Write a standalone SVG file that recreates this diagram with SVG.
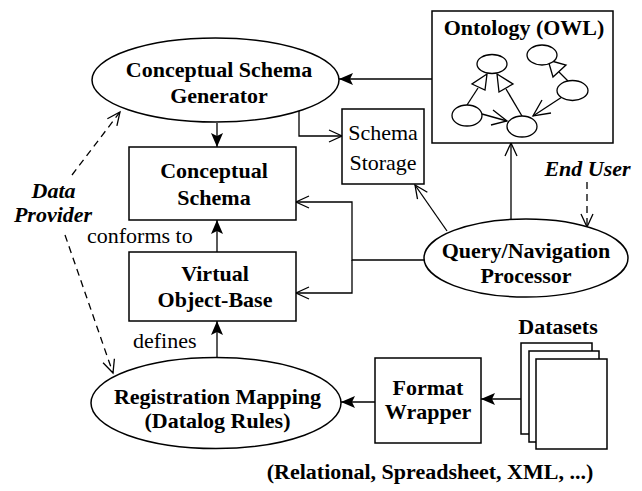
<svg xmlns="http://www.w3.org/2000/svg" width="642" height="491" viewBox="0 0 642 491">
<style>
text{font-family:"Liberation Serif","Times New Roman",serif;font-size:22px;fill:#000}
.b{font-weight:bold}
.bi{font-weight:bold;font-style:italic}
.m{text-anchor:middle}
.shape{fill:#fff;stroke:#000;stroke-width:1.5}
.small{fill:#fff;stroke:#000;stroke-width:1.3}
.ln{fill:none;stroke:#000;stroke-width:1.3}
.dash{fill:none;stroke:#000;stroke-width:1.3;stroke-dasharray:7,5}
.fa{marker-end:url(#filled)}
.oa{marker-end:url(#open)}
</style>
<defs>
<marker id="filled" viewBox="0 0 14 12" refX="14" refY="6" markerWidth="14" markerHeight="12" markerUnits="userSpaceOnUse" orient="auto">
<path d="M0,0 L14,6 L0,12 L3,6 Z" fill="#000"/>
</marker>
<marker id="open" viewBox="-1 -1 16 14" refX="13" refY="6" markerWidth="16" markerHeight="14" markerUnits="userSpaceOnUse" orient="auto">
<path d="M0,0 L13,6 L0,12" fill="none" stroke="#000" stroke-width="1.3"/>
</marker>
</defs>

<g id="connectors">
<line class="ln fa" x1="217" y1="123" x2="217" y2="147"/>
<line class="ln fa" x1="217" y1="252" x2="217" y2="220"/>
<line class="ln fa" x1="217" y1="358" x2="217" y2="321"/>
<line class="ln fa" x1="432" y1="79" x2="339" y2="79"/>
<line class="ln fa" x1="375" y1="402" x2="341" y2="402"/>
<line class="ln fa" x1="521" y1="399" x2="481" y2="399"/>
<path class="ln oa" d="M299,111 V136 H342"/>
<line class="ln oa" x1="511" y1="219" x2="511" y2="143"/>
<line class="ln oa" x1="447" y1="231" x2="415" y2="185"/>
<path class="ln oa" d="M424,260 H352 V202 H296"/>
<path class="ln oa" d="M352,260 V293 H296"/>
<line class="dash oa" x1="587" y1="182" x2="587" y2="227"/>
<line class="dash oa" x1="72" y1="175" x2="120" y2="112"/>
<line class="dash oa" x1="65" y1="235" x2="113" y2="373"/>
</g>

<g id="generator">
<ellipse class="shape" cx="215.5" cy="80" rx="123.5" ry="42"/>
<text class="b m" x="219" y="77">Conceptual Schema</text>
<text class="b m" x="219" y="103">Generator</text>
</g>

<g id="conceptual-schema">
<rect class="shape" x="129" y="147" width="167" height="73"/>
<text class="b m" x="214" y="178">Conceptual</text>
<text class="b m" x="214" y="205">Schema</text>
</g>

<g id="virtual-object-base">
<rect class="shape" x="129" y="252" width="167" height="69"/>
<text class="b m" x="215" y="281">Virtual</text>
<text class="b m" x="215" y="307">Object-Base</text>
</g>

<g id="registration-mapping">
<ellipse class="shape" cx="216" cy="403" rx="125" ry="45.5"/>
<text class="b m" x="217.5" y="404">Registration Mapping</text>
<text class="b m" x="217.5" y="428">(Datalog Rules)</text>
</g>

<g id="format-wrapper">
<rect class="shape" x="375" y="358" width="106" height="85"/>
<text class="b m" x="428" y="395">Format</text>
<text class="b m" x="428" y="419">Wrapper</text>
</g>

<g id="datasets">
<text class="b m" x="558" y="334">Datasets</text>
<rect class="shape" x="521" y="343" width="71" height="91"/>
<rect class="shape" x="529" y="351" width="70" height="91"/>
<rect class="shape" x="536" y="359" width="71" height="90"/>
</g>

<g id="schema-storage">
<rect class="shape" x="342" y="109" width="82" height="75"/>
<text class="m" x="383" y="140">Schema</text>
<text class="m" x="383" y="170">Storage</text>
</g>

<g id="ontology">
<rect class="shape" x="432" y="11" width="181" height="132"/>
<text class="b m" x="524" y="35">Ontology (OWL)</text>
<line class="ln" x1="467" y1="105" x2="478" y2="88"/>
<polygon class="small" points="487,74 472,84 485,90"/>
<line class="ln" x1="522" y1="116" x2="506" y2="89"/>
<polygon class="small" points="497,74 513,84 499,92"/>
<line class="ln" x1="568" y1="81" x2="559" y2="72"/>
<polygon class="small" points="548,60 566,65 553,77"/>
<line class="ln" x1="482" y1="114" x2="507" y2="121"/>
<path class="ln" d="M493,110 L507,121 L491,125"/>
<line class="ln" x1="562" y1="97" x2="533" y2="116"/>
<path class="ln" d="M542,100 L533,116 L551,113"/>
<ellipse class="small" cx="492" cy="64" rx="15" ry="9.5"/>
<ellipse class="small" cx="542" cy="55" rx="15" ry="10"/>
<ellipse class="small" cx="572.5" cy="90.5" rx="15.5" ry="10"/>
<ellipse class="small" cx="467" cy="115.5" rx="15" ry="10.5"/>
<ellipse class="small" cx="522" cy="126.5" rx="15" ry="10.5"/>
</g>

<g id="query-navigation-processor">
<ellipse class="shape" cx="526" cy="258" rx="102" ry="39"/>
<text class="b m" x="526" y="258">Query/Navigation</text>
<text class="b m" x="526" y="283">Processor</text>
</g>

<g id="labels">
<text x="87" y="243">conforms to</text>
<text x="133" y="348">defines</text>
<text class="bi m" x="587.5" y="176">End User</text>
<text class="bi m" x="53.5" y="198">Data</text>
<text class="bi m" x="53" y="222">Provider</text>
<text class="b m" x="430" y="479">(Relational, Spreadsheet, XML, ...)</text>
</g>
</svg>
